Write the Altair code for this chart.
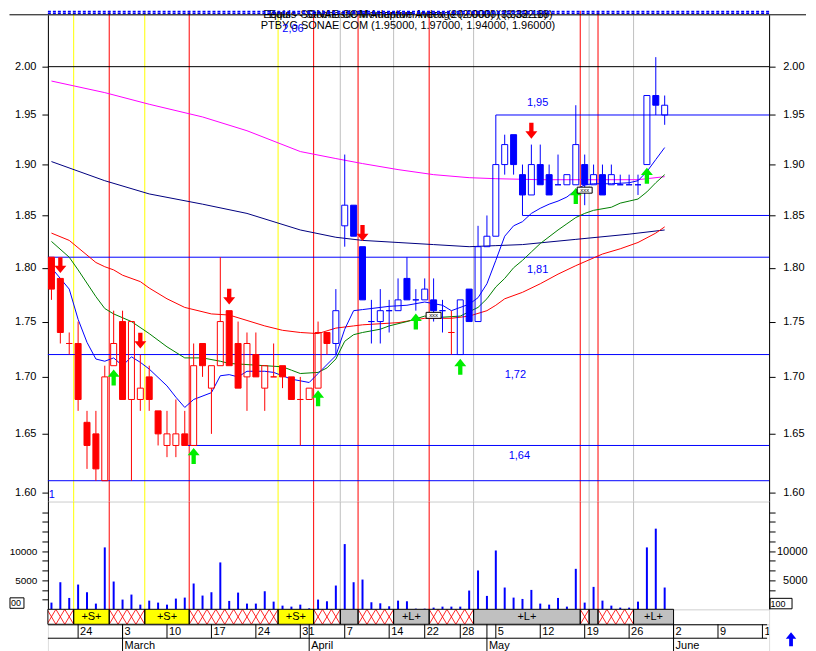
import altair as alt
import pandas as pd

FONT = "Liberation Sans"

# ---------------- data ----------------
trade_dates = (
    ["2003-02-%02d" % d for d in [19, 20, 21, 24, 25, 26, 27, 28]]
    + ["2003-03-%02d" % d for d in [3, 4, 5, 6, 7, 10, 11, 12, 13, 14, 17, 18, 19, 20, 21, 24, 25, 26, 27, 28, 31]]
    + ["2003-04-%02d" % d for d in [1, 2, 3, 4, 7, 8, 9, 10, 11, 14, 15, 16, 17, 22, 23, 24, 25, 28, 29, 30]]
    + ["2003-05-%02d" % d for d in [2, 5, 6, 7, 8, 9, 12, 13, 14, 15, 16, 19, 20, 21, 22, 23, 26, 27, 28, 29, 30]]
)

opens = [1.81, 1.79, 1.73, 1.73, 1.66, 1.65, 1.61, 1.71, 1.75, 1.68,
         1.68, 1.70, 1.67, 1.64, 1.64, 1.65, 1.64, 1.73, 1.69, 1.71,
         1.76, 1.73, 1.70, 1.72, 1.69, 1.70, 1.71, 1.70, 1.68, 1.68,
         1.69, 1.74, 1.73, 1.84, 1.86, 1.82, 1.75, 1.75, 1.76, 1.76,
         1.79, 1.77, 1.77, 1.77, 1.76, 1.74, 1.72, 1.78, 1.75, 1.82,
         1.83, 1.90, 1.93, 1.89, 1.87, 1.90, 1.89, 1.88, 1.88, 1.88,
         1.90, 1.88, 1.89, 1.88, 1.88, 1.88, 1.88, 1.90, 1.97, 1.95]
highs = [1.81, 1.79, 1.74, 1.75, 1.67, 1.67, 1.71, 1.76, 1.76, 1.75,
         1.72, 1.71, 1.67, 1.67, 1.68, 1.67, 1.73, 1.73, 1.71, 1.81,
         1.76, 1.75, 1.74, 1.74, 1.71, 1.73, 1.71, 1.70, 1.70, 1.69,
         1.75, 1.74, 1.78, 1.91, 1.86, 1.82, 1.77, 1.78, 1.77, 1.79,
         1.81, 1.78, 1.79, 1.79, 1.77, 1.76, 1.77, 1.78, 1.84, 1.85,
         1.95, 1.93, 1.93, 1.90, 1.92, 1.92, 1.90, 1.91, 1.89, 1.96,
         1.91, 1.90, 1.90, 1.90, 1.89, 1.89, 1.89, 1.97, 2.01, 1.97]
lows = [1.77, 1.73, 1.72, 1.67, 1.62, 1.61, 1.61, 1.71, 1.68, 1.61,
        1.67, 1.67, 1.64, 1.63, 1.63, 1.64, 1.64, 1.70, 1.65, 1.71,
        1.71, 1.69, 1.67, 1.70, 1.67, 1.70, 1.69, 1.68, 1.64, 1.68,
        1.69, 1.72, 1.72, 1.82, 1.83, 1.77, 1.73, 1.73, 1.74, 1.76,
        1.77, 1.76, 1.77, 1.75, 1.74, 1.72, 1.72, 1.75, 1.75, 1.82,
        1.83, 1.89, 1.89, 1.85, 1.87, 1.88, 1.87, 1.88, 1.88, 1.88,
        1.86, 1.88, 1.87, 1.88, 1.88, 1.88, 1.87, 1.90, 1.95, 1.94]
closes = [1.78, 1.74, 1.73, 1.68, 1.64, 1.62, 1.70, 1.73, 1.68, 1.75,
          1.69, 1.68, 1.65, 1.65, 1.65, 1.64, 1.71, 1.71, 1.71, 1.75,
          1.71, 1.69, 1.73, 1.70, 1.71, 1.70, 1.70, 1.68, 1.68, 1.69,
          1.74, 1.73, 1.76, 1.86, 1.83, 1.77, 1.75, 1.76, 1.76, 1.77,
          1.77, 1.77, 1.78, 1.76, 1.76, 1.74, 1.77, 1.75, 1.82, 1.83,
          1.90, 1.92, 1.90, 1.87, 1.90, 1.88, 1.87, 1.88, 1.89, 1.92,
          1.88, 1.89, 1.87, 1.89, 1.88, 1.88, 1.88, 1.97, 1.96, 1.96]
candle_kind = ["r"] * 32 + ["b"] * 13 + ["r"] + ["b"] * 24

volumes = [1150, 4650, 1950, 4250, 2930, 980, 10630, 4770, 1670, 2530,
           800, 1490, 1150, 800, 1840, 2010, 4430, 2360, 2930, 8050,
           1440, 2870, 980, 980, 3100, 1320, 630, 460, 800, 170,
           1670, 1380, 4080, 11200, 4650, 5110, 1210, 1030, 520, 1490,
           1380, 115, 115, 290, 460, 460, 460, 3220, 6670, 2300,
           10100, 3740, 2010, 1780, 3330, 980, 800, 1950, 460, 6950,
           1150, 3850, 1490, 630, 290, 290, 1320, 10630, 13850, 3740]

# moving averages (day index, value)
ma_blue_i = [0, 2, 3, 4, 5, 6, 7, 8, 9, 10, 11, 13, 14, 15, 16, 18, 19, 20, 21, 22, 24, 25, 27, 29, 30, 32, 33, 34, 35,
             37, 38, 40, 42, 44, 45, 47, 48, 49, 50, 51, 52, 53, 54, 55, 56, 57, 58, 59, 60, 61, 63, 65, 66, 67, 68, 69]
ma_blue_v = [1.800, 1.780, 1.752, 1.731, 1.716, 1.714, 1.717, 1.710, 1.718, 1.713, 1.707, 1.692, 1.682, 1.673, 1.680,
             1.686, 1.701, 1.702, 1.700, 1.705, 1.705, 1.704, 1.698, 1.695, 1.703, 1.719, 1.743, 1.760, 1.761,
             1.763, 1.764, 1.765, 1.768, 1.765, 1.760, 1.766, 1.772, 1.785, 1.807, 1.830, 1.840, 1.844, 1.852,
             1.857, 1.861, 1.864, 1.868, 1.875, 1.880, 1.881, 1.881, 1.882, 1.884, 1.893, 1.905, 1.917]
ma_green_i = [0, 2, 3, 5, 6, 7, 9, 11, 13, 15, 17, 19, 20, 22, 24, 26, 27, 28, 30, 31, 32, 33, 34, 35, 37, 38, 40, 42,
              44, 46, 47, 48, 49, 50, 51, 52, 53, 54, 55, 57, 58, 59, 60, 61, 63, 64, 65, 66, 67, 68, 69]
ma_green_v = [1.825, 1.810, 1.798, 1.773, 1.762, 1.757, 1.750, 1.739, 1.727, 1.717, 1.717, 1.714, 1.712, 1.711, 1.710,
              1.709, 1.706, 1.703, 1.704, 1.708, 1.716, 1.732, 1.738, 1.740, 1.743, 1.746, 1.750, 1.755,
              1.754, 1.755, 1.759, 1.763, 1.771, 1.782, 1.790, 1.800, 1.807, 1.815, 1.823, 1.836, 1.842, 1.848,
              1.852, 1.855, 1.858, 1.862, 1.864, 1.866, 1.873, 1.882, 1.890]
ma_red_i = [0, 2, 4, 5, 6, 7, 8, 10, 11, 13, 15, 18, 20, 22, 24, 26, 28, 30, 32, 34, 35, 39, 42, 45, 47, 49, 50, 51,
            53, 55, 57, 59, 62, 64, 66, 68, 69]
ma_red_v = [1.833, 1.826, 1.812, 1.805, 1.801, 1.798, 1.793, 1.787, 1.781, 1.771, 1.763, 1.757, 1.756, 1.751, 1.746,
            1.742, 1.740, 1.739, 1.744, 1.746, 1.747, 1.749, 1.753, 1.753, 1.755, 1.760, 1.765, 1.771,
            1.777, 1.785, 1.794, 1.802, 1.813, 1.818, 1.824, 1.833, 1.839]
ma_navy_i = [0, 6, 11, 17, 22, 28, 32, 35, 39, 43, 47, 50, 53, 59, 65, 69]
ma_navy_v = [1.903, 1.884, 1.871, 1.861, 1.852, 1.836, 1.829, 1.826, 1.824, 1.822, 1.820, 1.821, 1.822, 1.827,
             1.832, 1.836]
ma_mag_i = [0, 6, 11, 17, 22, 28, 32, 35, 39, 43, 47, 50, 55, 60, 66, 69]
ma_mag_v = [1.985, 1.973, 1.961, 1.948, 1.934, 1.913, 1.906, 1.901, 1.895, 1.890, 1.887, 1.886, 1.885, 1.885,
            1.885, 1.888]

# horizontal study lines
hline_val = [2.00, 1.95, 1.85, 1.81, 1.72, 1.64, 1.61]
hline_from = [-0.4, 50, 53, -0.4, -0.4, 15.35, -0.4]
hline_col = ["#000000", "#0000FF", "#0000FF", "#0000FF", "#0000FF", "#0000FF", "#0000FF"]
hlabel_text = ["1,95", "1,81", "1,72", "1,64", "1"]
hlabel_i = [53.5, 53.5, 51.0, 51.45, -0.3]
hlabel_v = [1.95, 1.81, 1.72, 1.64, 1.61]
hlabel_dy = [-12, 12.5, 20, 10.5, 14.5]

# signal arrows
up_i = [7, 16, 30, 41, 46, 59, 67]
up_v = [1.6995, 1.631, 1.681, 1.750, 1.709, 1.869, 1.889]
down_i = [1, 10, 20, 35, 54]
down_v = [1.8025, 1.7326, 1.773, 1.833, 1.934]
marker_i = [43, 60]
marker_v = [1.7557, 1.8747]

# system events (vertical lines) and position bands
event_i = [2.5, 6.5, 10.5, 15.5, 25.5, 29.5, 32.5, 34.5, 38.5, 42.5, 47.5, 59.5, 60.5, 61.5, 65.5]
event_kind = ["y", "r", "y", "r", "y", "r", "g", "r", "g", "r", "g", "r", "g", "r", "g"]
band_start = [-0.4, 2.5, 6.5, 10.5, 15.5, 25.5, 29.5, 32.5, 34.5, 38.5, 42.5, 47.5, 59.5, 60.5, 61.5, 65.5]
band_end = [2.5, 6.5, 10.5, 15.5, 25.5, 29.5, 32.5, 34.5, 38.5, 42.5, 47.5, 59.5, 60.5, 61.5, 65.5, 70.0]
band_kind = ["h", "S", "h", "S", "h", "S", "h", "L", "h", "L", "h", "L", "h", "L", "h", "L"]
band_text = ["", "+S+", "", "+S+", "", "+S+", "", "", "", "+L+", "", "+L+", "", "", "", "+L+"]

# date axis
day_label = ["24", "3", "10", "17", "24", "31", "7", "14", "22", "28", "5", "12", "19", "26", "2", "9", "16"]
day_label_i = [3, 8, 13, 18, 23, 28, 33, 38, 42, 46, 50, 55, 60, 65, 70, 75, 80]
month_label = ["March", "April", "May", "June"]
month_label_i = [8, 29, 49, 70]

price_ticks = [1.60, 1.65, 1.70, 1.75, 1.80, 1.85, 1.90, 1.95, 2.00]
vol_ticks = [1666.667, 3333.333, 5000, 6666.667, 8333.333, 10000, 11666.667, 13333.333, 15000, 16666.667]

# ---------------- layout ----------------
W = 723
HP, HV, HB, HD = 488, 108, 15, 28
XD = [-0.4, 80.75]
PRICE_DOM = [1.5925, 2.0551]
VOL_DOM = [0, 18500]

RED, BLUE, GREEN = "#FF0000", "#0000FF", "#00EE00"
EVC = {"y": "#FFFF00", "r": "#FF0000", "g": "#C0C0C0"}
BANDC = {"h": "#FFFFFF", "S": "#FFFF00", "L": "#C0C0C0"}
UP = "M0,-1L0.75,-0.08L0.27,-0.08L0.27,1L-0.27,1L-0.27,-0.08L-0.75,-0.08Z"
DOWN = "M0,1L0.75,0.08L0.27,0.08L0.27,-1L-0.27,-1L-0.27,0.08L-0.75,0.08Z"
BOX = "M-1,-0.4L1,-0.4L1,0.4L-1,0.4Z"


def X(f):
    return alt.X(f, type="quantitative", scale=alt.Scale(domain=XD, nice=False, zero=False, padding=0),
                 axis=None)


yp_scale = alt.Scale(type="log", domain=PRICE_DOM, nice=False, padding=0)
yv_scale = alt.Scale(domain=VOL_DOM, nice=False, zero=False, padding=0)


def YP(f, axis=None):
    return alt.Y(f, type="quantitative", scale=yp_scale, axis=axis)


def YV(f, axis=None):
    return alt.Y(f, type="quantitative", scale=yv_scale, axis=axis)


axis_style = dict(labelFont=FONT, labelColor="black", tickColor="black", domainColor="black",
                  tickSize=6, grid=False, title=None, labelOverlap=False)

# ---------------- price panel ----------------
cdf = pd.DataFrame({"i": list(range(len(opens))), "o": opens, "h": highs, "l": lows, "c": closes,
                    "k": candle_kind, "d": trade_dates})
CC = {"r": RED, "b": BLUE}
cdf["col"] = cdf["k"].map(CC)
cdf["top"] = cdf[["o", "c"]].max(axis=1)
cdf["bot"] = cdf[["o", "c"]].min(axis=1)
cdf["fillc"] = [CC[k] if c < o else "transparent" for k, o, c in zip(cdf["k"], cdf["o"], cdf["c"])]

ev = pd.DataFrame({"i": event_i, "col": [EVC[k] for k in event_kind]})
hl = pd.DataFrame({"v": hline_val, "s": hline_from, "e": [XD[1]] * len(hline_val), "col": hline_col})

ma_rows = []
for name, col, ii, vv in [("mag", "#FF00FF", ma_mag_i, ma_mag_v), ("navy", "#000080", ma_navy_i, ma_navy_v),
                          ("red", "#FF0000", ma_red_i, ma_red_v), ("green", "#008000", ma_green_i, ma_green_v),
                          ("blue", "#0000FF", ma_blue_i, ma_blue_v)]:
    for a, b in zip(ii, vv):
        ma_rows.append({"s": name, "col": col, "i": a, "v": b})
ma = pd.DataFrame(ma_rows)

ev_price = alt.Chart(ev).mark_rule(strokeWidth=1).encode(
    x=X("i"), y=alt.value(-4), y2=alt.value(HP), color=alt.Color("col:N", scale=None))
hl_layer = alt.Chart(hl).mark_rule(strokeWidth=1).encode(
    x=X("s"), x2="e:Q", y=YP("v"), color=alt.Color("col:N", scale=None))
ma_layer = alt.Chart(ma).mark_line(strokeWidth=1, interpolate="linear").encode(
    x=X("i"), y=YP("v"), detail="s:N", color=alt.Color("col:N", scale=None))
wick_hi = alt.Chart(cdf).mark_rule(strokeWidth=1).encode(
    x=X("i"), y=YP("top"), y2="h:Q", color=alt.Color("col:N", scale=None))
wick_lo = alt.Chart(cdf).mark_rule(strokeWidth=1).encode(
    x=X("i"), y=YP("l"), y2="bot:Q", color=alt.Color("col:N", scale=None))
body = alt.Chart(cdf).mark_bar(size=6, strokeWidth=1).encode(
    x=X("i"), y=YP("bot"), y2="top:Q",
    fill=alt.Fill("fillc:N", scale=None), stroke=alt.Stroke("col:N", scale=None))
up_layer = alt.Chart(pd.DataFrame({"i": up_i, "v": up_v})).mark_point(
    shape=UP, size=256, filled=True, color=GREEN, opacity=1).encode(x=X("i"), y=YP("v"))
down_layer = alt.Chart(pd.DataFrame({"i": down_i, "v": down_v})).mark_point(
    shape=DOWN, size=256, filled=True, color=RED, opacity=1).encode(x=X("i"), y=YP("v"))
mk = pd.DataFrame({"i": marker_i, "v": marker_v})
mk_box = alt.Chart(mk).mark_point(shape=BOX, size=225, filled=True, fill="white", stroke="black",
                                  strokeWidth=1, opacity=1).encode(x=X("i"), y=YP("v"))
mk_txt = alt.Chart(mk).mark_text(text="xxx", fontSize=6, font=FONT, color="black").encode(x=X("i"), y=YP("v"))

hlab_layers = []
for t, i, v, dy in zip(hlabel_text, hlabel_i, hlabel_v, hlabel_dy):
    hlab_layers.append(
        alt.Chart(pd.DataFrame({"t": [t], "i": [i], "v": [v]})).mark_text(
            align="left", baseline="middle", fontSize=11, font=FONT, color=BLUE, dy=dy).encode(
            x=X("i"), y=YP("v"), text="t:N"))

title1 = alt.Chart(pd.DataFrame({"t": ["Equis - Stochastic Momentum Index (20.0000) (3,332.18)",
                                       "Equis - SONAE COM Adaptive Average (2.0000) (3,332.18)"]})).mark_text(
    fontSize=11, font=FONT, color="black", baseline="alphabetic").encode(
    x=alt.value(361), y=alt.value(3.5), text="t:N")
title2 = alt.Chart(pd.DataFrame({"t": ["PTBYG SONAE COM (1.95000, 1.97000, 1.94000, 1.96000)"]})).mark_text(
    fontSize=11, font=FONT, color="black", baseline="alphabetic").encode(
    x=alt.value(361), y=alt.value(14.5), text="t:N")
title3 = alt.Chart(pd.DataFrame({"t": ["2,06"]})).mark_text(
    fontSize=11, font=FONT, color=BLUE, align="left", baseline="alphabetic").encode(
    x=alt.value(235), y=alt.value(17), text="t:N")
strip = alt.Chart(pd.DataFrame({"a": [0]})).mark_rule(
    color=BLUE, strokeWidth=1.4, strokeDash=[3, 2]).encode(
    x=alt.value(0), x2=alt.value(W), y=alt.value(-3.3))
strip2 = alt.Chart(pd.DataFrame({"a": [0]})).mark_rule(
    color=BLUE, strokeWidth=1.4, strokeDash=[3, 2]).encode(x=alt.value(0), x2=alt.value(W), y=alt.value(-1.6))
topline = alt.Chart(pd.DataFrame({"a": [0]})).mark_rule(color="black", strokeWidth=1).encode(
    x=alt.value(-38.5), x2=alt.value(760), y=alt.value(0))

pt = pd.DataFrame({"v": price_ticks})
paxis_l = alt.Chart(pt).mark_rule(opacity=0).encode(
    y=YP("v", alt.Axis(orient="left", values=price_ticks, format=".2f", labelPadding=6, labelFontSize=11,
                       **axis_style)))
paxis_r = alt.Chart(pt).mark_rule(opacity=0).encode(
    y=YP("v", alt.Axis(orient="right", values=price_ticks, format=".2f", labelPadding=29, labelAlign="right",
                       labelFontSize=11, **axis_style)))

price = alt.layer(
    ev_price, hl_layer, ma_layer, wick_hi, wick_lo, body, up_layer, down_layer, mk_box, mk_txt,
    *hlab_layers, title1, title2, title3, strip, strip2, topline, paxis_l, paxis_r
).resolve_axis(y="independent").properties(width=W, height=HP)

# ---------------- volume panel ----------------
vdf = pd.DataFrame({"i": list(range(len(volumes))), "v": volumes})
ev_vol = alt.Chart(ev).mark_rule(strokeWidth=1).encode(
    x=X("i"), y=alt.value(0), y2=alt.value(HV), color=alt.Color("col:N", scale=None))
vbars = alt.Chart(vdf).mark_bar(size=2, color=BLUE).encode(x=X("i"), y=YV("v"), y2=alt.datum(0))
vt = pd.DataFrame({"v": vol_ticks})
vexpr = "(abs(datum.value-5000)<1 || abs(datum.value-10000)<1) ? format(datum.value, 'd') : ''"
vaxis_l = alt.Chart(vt).mark_rule(opacity=0).encode(
    y=YV("v", alt.Axis(orient="left", values=vol_ticks, labelExpr=vexpr, labelPadding=5, labelFontSize=10,
                       **axis_style)))
vaxis_r = alt.Chart(vt).mark_rule(opacity=0).encode(
    y=YV("v", alt.Axis(orient="right", values=vol_ticks, labelExpr=vexpr, labelPadding=32, labelAlign="right",
                       labelFontSize=11, **axis_style)))
box_r = alt.Chart(pd.DataFrame({"a": [0]})).mark_rect(fill="white", stroke="black", strokeWidth=1).encode(
    x=alt.value(724), x2=alt.value(746), y=alt.value(97), y2=alt.value(107.5))
box_r_t = alt.Chart(pd.DataFrame({"t": ["100"]})).mark_text(
    fontSize=9, font=FONT, align="left", baseline="middle", color="black").encode(
    x=alt.value(724.5), y=alt.value(102.5), text="t:N")
box_l = alt.Chart(pd.DataFrame({"a": [0]})).mark_rect(fill="white", stroke="black", strokeWidth=1).encode(
    x=alt.value(-38), x2=alt.value(-24), y=alt.value(96.5), y2=alt.value(107))
box_l_t = alt.Chart(pd.DataFrame({"t": ["00"]})).mark_text(
    fontSize=9, font=FONT, align="left", baseline="middle", color="black").encode(
    x=alt.value(-37), y=alt.value(102), text="t:N")

volume = alt.layer(ev_vol, vbars, box_r, box_r_t, box_l, box_l_t, vaxis_l, vaxis_r).resolve_axis(
    y="independent").properties(width=W, height=HV)

# ---------------- position band ----------------
bdf = pd.DataFrame({"s": band_start, "e": band_end, "fc": [BANDC[k] for k in band_kind], "t": band_text})
bdf["m"] = (bdf["s"] + bdf["e"]) / 2
hatch = []
for s, e, k in zip(band_start, band_end, band_kind):
    if k != "h":
        continue
    kk = 0 if s < 0 else int(round(s + 0.5))
    while kk - 0.5 < e - 0.01:
        hatch.append({"a": kk - 0.5, "b": kk + 0.5, "y0": 0, "y1": 1})
        hatch.append({"a": kk - 0.5, "b": kk + 0.5, "y0": 1, "y1": 0})
        kk += 1
hdf = pd.DataFrame(hatch)
yb = alt.Scale(domain=[0, 1], nice=False, zero=False, padding=0)
band_fill = alt.Chart(bdf).mark_rect(strokeWidth=0).encode(
    x=X("s"), x2="e:Q", y=alt.value(0), y2=alt.value(HB), fill=alt.Fill("fc:N", scale=None))
band_hatch = alt.Chart(hdf).mark_rule(color=RED, strokeWidth=1, opacity=0.85, clip=True).encode(
    x=X("a"), x2="b:Q", y=alt.Y("y0:Q", scale=yb, axis=None), y2="y1:Q")
band_border = alt.Chart(bdf).mark_rect(fill="transparent", stroke="black", strokeWidth=1).encode(
    x=X("s"), x2="e:Q", y=alt.value(0), y2=alt.value(HB))
band_txt = alt.Chart(bdf).mark_text(fontSize=11, font=FONT, color="black", baseline="middle").encode(
    x=X("m"), y=alt.value(HB / 2 + 0.5), text="t:N")
band = alt.layer(band_fill, band_hatch, band_border, band_txt).properties(width=W, height=HB)

# ---------------- date rows ----------------
dl = pd.DataFrame({"i": day_label_i, "t": day_label})
ml = pd.DataFrame({"i": month_label_i, "t": month_label})
rows = pd.DataFrame({"y": [0.5, 14]})
row_lines = alt.Chart(rows).mark_rule(color="black", strokeWidth=1).encode(
    x=alt.value(0), x2=alt.value(721),
    y=alt.Y("y:Q", scale=alt.Scale(domain=[0, HD], range=[0, HD], padding=0), axis=None))
day_sep = alt.Chart(dl).mark_rule(color="black", strokeWidth=1).encode(x=X("i"), y=alt.value(0), y2=alt.value(14))
mon_sep = alt.Chart(ml).mark_rule(color="black", strokeWidth=1).encode(x=X("i"), y=alt.value(0), y2=alt.value(HD))
day_txt = alt.Chart(dl).mark_text(align="left", baseline="middle", dx=2, fontSize=11, font=FONT, color="black",
                                  clip=True).encode(x=X("i"), y=alt.value(7.5), text="t:N")
mon_txt = alt.Chart(ml).mark_text(align="left", baseline="middle", dx=2, fontSize=11, font=FONT,
                                  color="black").encode(x=X("i"), y=alt.value(21.5), text="t:N")
nav = alt.Chart(pd.DataFrame({"a": [0]})).mark_point(shape=UP, size=196, filled=True, color=BLUE, opacity=1).encode(
    x=alt.value(745), y=alt.value(15))
dates = alt.layer(row_lines, day_sep, mon_sep, day_txt, mon_txt, nav).properties(width=W, height=HD)

chart = alt.vconcat(price, volume, band, dates, spacing=0, bounds="flush", padding=0).configure_view(
    stroke=None).configure(background="white")

chart.save("out.html", embed_options={"renderer": "svg", "actions": False})
